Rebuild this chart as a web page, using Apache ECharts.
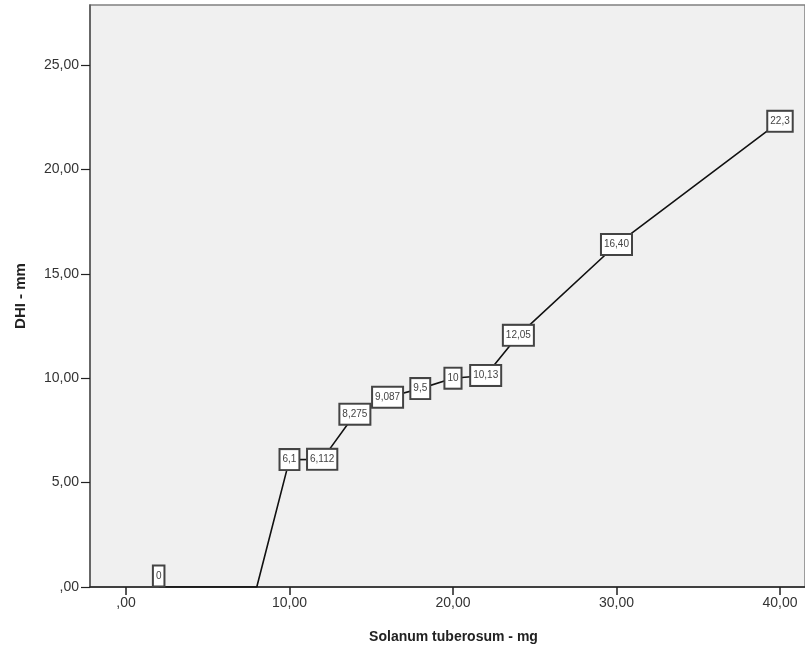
<!DOCTYPE html>
<html>
<head>
<meta charset="utf-8">
<script src="https://cdn.jsdelivr.net/npm/echarts@6/dist/echarts.min.js"></script>
<style>
  html, body { margin: 0; padding: 0; background: #fff; }
  #chart { width: 805px; height: 649px; }
</style>
</head>
<body>
<div id="chart"></div>
<script>
// 数据
const xValues = [2, 8, 10, 12, 14, 16, 18, 20, 22, 24, 30, 40];
const yValues = [0, 0, 6.1, 6.112, 8.275, 9.087, 9.5, 10, 10.13, 12.05, 16.40, 22.3];
const pointLabels = ['0', '', '6,1', '6,112', '8,275', '9,087', '9,5', '10', '10,13', '12,05', '16,40', '22,3'];
const xTicks = [0, 10, 20, 30, 40];
const yTicks = [0, 5, 10, 15, 20, 25];

function fmt(v) {
  let s = v.toFixed(2).replace('.', ',');
  if (s.startsWith('0,')) s = s.slice(1);
  return s;
}

const chart = echarts.init(document.getElementById('chart'));

const seriesData = xValues.map(function (x, i) {
  const item = { value: [x, yValues[i]] };
  if (pointLabels[i] === '') item.label = { show: false };
  else if (yValues[i] === 0) item.label = { offset: [0, -11] };
  return item;
});

const option = {
  animation: false,
  grid: {
    left: 90, right: 0, top: 5, bottom: 61,
    show: true,
    backgroundColor: '#f0f0f0',
    borderColor: '#808080',
    borderWidth: 1.5
  },
  xAxis: {
    type: 'value',
    min: -2.2,
    max: 41.53,
    name: 'Solanum tuberosum - mg',
    nameLocation: 'middle',
    nameGap: 43,
    nameTextStyle: { fontFamily: 'Liberation Sans', fontWeight: 'bold', fontSize: 14, color: '#222', padding: [0, 0, 0, 12] },
    splitLine: { show: false },
    axisLine: { show: true, onZero: false, lineStyle: { color: '#222', width: 1.5 } },
    axisTick: { show: true, length: 8, customValues: xTicks, lineStyle: { color: '#222', width: 1.5 } },
    axisLabel: {
      customValues: xTicks,
      formatter: fmt,
      fontFamily: 'Liberation Sans', fontSize: 14, color: '#333', margin: 9
    }
  },
  yAxis: {
    type: 'value',
    min: 0,
    max: 27.87,
    name: 'DHI - mm',
    nameLocation: 'middle',
    nameGap: 62,
    nameTextStyle: { fontFamily: 'Liberation Sans', fontWeight: 'bold', fontSize: 15, color: '#222' },
    splitLine: { show: false },
    axisLine: { show: true, onZero: false, lineStyle: { color: '#555', width: 1.5 } },
    axisTick: { show: true, length: 9, customValues: yTicks, lineStyle: { color: '#222', width: 1.2 } },
    axisLabel: {
      customValues: yTicks,
      formatter: fmt,
      fontFamily: 'Liberation Sans', fontSize: 14, color: '#333', margin: 11
    }
  },
  series: [{
    type: 'line',
    data: seriesData,
    showSymbol: true,
    symbol: 'circle',
    symbolSize: 0,
    itemStyle: { color: '#111' },
    lineStyle: { color: '#111', width: 1.6 },
    label: {
      show: true,
      position: 'inside',
      formatter: function (p) { return pointLabels[p.dataIndex]; },
      fontFamily: 'Liberation Sans',
      fontSize: 10,
      color: '#444',
      backgroundColor: '#fff',
      borderColor: '#444',
      borderWidth: 2,
      padding: [5, 2, 4, 2]
    }
  }]
};

chart.setOption(option);
window.addEventListener('resize', function () { chart.resize(); });
</script>
</body>
</html>
